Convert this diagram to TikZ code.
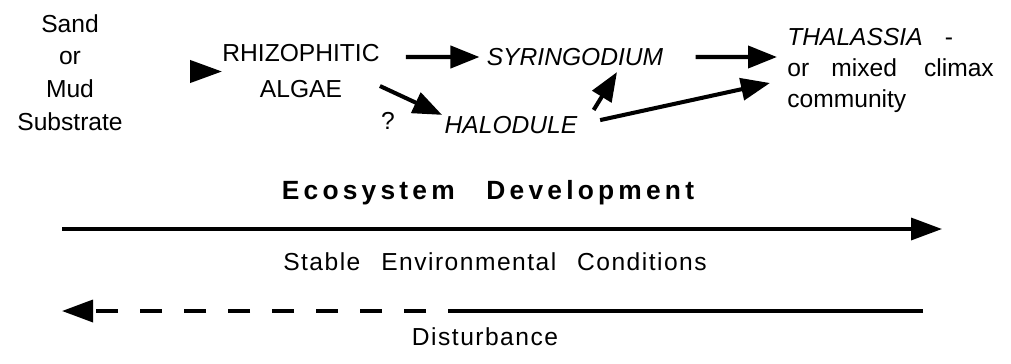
\documentclass[tikz,border=0pt]{standalone}
\usepackage{fontspec}
\setmainfont{Liberation Sans}
\usetikzlibrary{arrows.meta}
\newcommand{\txtsize}{\fontsize{14}{18.7}\selectfont}

\begin{document}
\begin{tikzpicture}[font=\txtsize,
	txt/.style={inner sep=0pt,align=center},
	arr/.style={line width=2.3pt,-{Triangle[length=5.8mm,width=4.4mm]}},
	bigarr/.style={line width=2pt,-{Triangle[length=6.2mm,width=4.4mm]}}]
	\useasboundingbox (0,0) rectangle (20.22,7.26);
	\node[txt] (sand) at (1.40,5.81) {Sand\\or\\Mud\\Substrate};
	\node[txt,font=\fontsize{14}{20.5}\selectfont] (rhizo) at (6.02,5.83) {RHIZOPHITIC\\ALGAE};
	\node[txt,font=\txtsize\itshape] (syr) at (11.50,6.12) {SYRINGODIUM};
	\node[txt,font=\txtsize\itshape] (hal) at (10.22,4.76) {HALODULE};
	\node[txt] (q) at (7.76,4.84) {?};
	\node[txt,align=left,anchor=west,font=\fontsize{14}{17.6}\selectfont] (thal) at (15.74,5.85)
		{\textit{THALASSIA}\hspace{0.9em}-\\or\hspace{0.9em}mixed\hspace{1.1em}climax\\community};
	\draw[arr,-{Triangle[length=6.4mm,width=4.4mm]}] ([xshift=-6.4mm]rhizo.west) -- (rhizo.west);
	\draw[arr,shorten <=5.2mm,shorten >=1.4mm] ([yshift=2.9mm]rhizo.east) -- (syr.west);
	\draw[arr,shorten >=0.5mm] ([yshift=-2.9mm]rhizo.east) -- (hal.north west);
	\draw[arr] ([xshift=3.2mm,yshift=1.2mm]hal.north east) -- ([xshift=8.4mm,yshift=-1.2mm]syr.south);
	\draw[arr,shorten <=6.4mm] (syr.east) -- ([xshift=-2mm,yshift=2.7mm]thal.west);
	\draw[arr,shorten <=4.6mm] (hal.east) -- ([xshift=-3.4mm,yshift=-2.5mm]thal.west);
	\node[txt,font=\fontsize{15}{18}\selectfont\bfseries\addfontfeatures{LetterSpace=16}] (eco) at (9.76,3.40) {Ecosystem\hspace{1.2em}Development};
	\coordinate (devL) at (1.24,2.68);
	\coordinate (devR) at (18.84,2.68);
	\draw[bigarr] (devL) -- (devR);
	\node[txt,font=\txtsize\addfontfeatures{LetterSpace=6}] (stab) at (9.90,2.02) {Stable\hspace{0.85em}Environmental\hspace{0.85em}Conditions};
	\coordinate (disL) at (1.24,1.04);
	\coordinate (disM) at (8.96,1.04);
	\coordinate (disR) at (18.46,1.04);
	\draw[line width=2pt] (disR) -- (disM);
	\draw[bigarr,dash pattern=on 4.4mm off 4.4mm,dash phase=4.4mm] (disM) -- (disL);
	\node[txt,font=\txtsize\addfontfeatures{LetterSpace=6}] (dist) at (9.70,0.52) {Disturbance};
\end{tikzpicture}
\end{document}
